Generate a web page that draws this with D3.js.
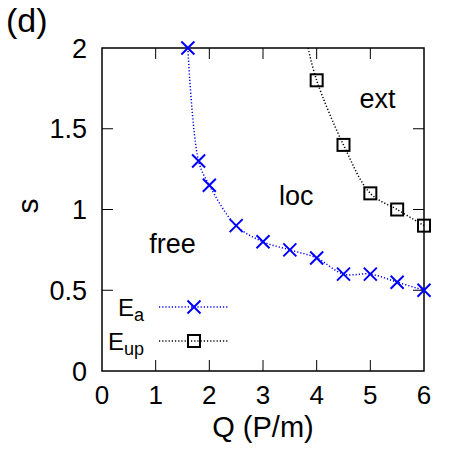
<!DOCTYPE html>
<html><head><meta charset="utf-8">
<script src="https://cdn.jsdelivr.net/npm/d3@7"></script>
<style>body{margin:0;background:#fff}svg{display:block}text{font-family:"Liberation Sans",Arial,sans-serif;fill:#000}</style>
</head><body><svg id="c" width="450" height="450"></svg>
<script>
const xTicks = [0,1,2,3,4,5,6];
const yTicks = [0,0.5,1,1.5,2];
const yTickLabels = ["0","0.5","1","1.5","2"];
const eaQ = [1.6,1.8,2.0,2.5,3.0,3.5,4.0,4.5,5.0,5.5,6.0];
const eaS = [2.0,1.3,1.15,0.9,0.8,0.75,0.7,0.6,0.6,0.55,0.5];
const eupQ = [4.0,4.5,5.0,5.5,6.0];
const eupS = [1.8,1.4,1.1,1.0,0.9];
const eupLineQ = [3.84,4.0,4.5,5.0,5.5,6.0];
const eupLineS = [2.0,1.8,1.4,1.1,1.0,0.9];
const regionLabels = ["ext","loc","free"];
const regionQ = [4.8,3.3,0.88];
const regionS = [1.63,1.03,0.73];

const svg = d3.select("#c");
const L=102,R=424,T=48,B=371;
const x = d3.scaleLinear().domain([0,6]).range([L,R]);
const y = d3.scaleLinear().domain([0,2]).range([B,T]);
const tk=11;

const g = svg.append("g");
xTicks.slice(1,-1).forEach(v=>{
  g.append("line").attr("x1",x(v)).attr("x2",x(v)).attr("y1",B).attr("y2",B-tk).attr("stroke","#000").attr("stroke-width",1);
  g.append("line").attr("x1",x(v)).attr("x2",x(v)).attr("y1",T).attr("y2",T+tk).attr("stroke","#000").attr("stroke-width",1);
});
yTicks.slice(1,-1).forEach(v=>{
  g.append("line").attr("y1",y(v)).attr("y2",y(v)).attr("x1",L).attr("x2",L+tk).attr("stroke","#000").attr("stroke-width",1);
  g.append("line").attr("y1",y(v)).attr("y2",y(v)).attr("x1",R).attr("x2",R-tk).attr("stroke","#000").attr("stroke-width",1);
});
svg.append("rect").attr("x",L).attr("y",T).attr("width",R-L).attr("height",B-T).attr("fill","none").attr("stroke","#000").attr("stroke-width",1.5);

xTicks.forEach(v=>{
  svg.append("text").attr("x",x(v)).attr("y",404).attr("text-anchor","middle").attr("font-size",26).text(v);
});
yTicks.forEach((v,i)=>{
  svg.append("text").attr("x",87).attr("y",y(v)).attr("dy","0.36em").attr("text-anchor","end").attr("font-size",27).text(yTickLabels[i]);
});
svg.append("text").attr("x",263).attr("y",437).attr("text-anchor","middle").attr("font-size",29).text("Q (P/m)");
svg.append("text").attr("transform","translate(38,206) rotate(-90)").attr("text-anchor","middle").attr("font-size",30).text("s");
svg.append("text").attr("x",6).attr("y",32).attr("font-size",34).text("(d)");

regionLabels.forEach((t,i)=>{
  svg.append("text").attr("x",x(regionQ[i])).attr("y",y(regionS[i])).attr("font-size",27).text(t);
});

const line = d3.line().x(d=>x(d[0])).y(d=>y(d[1])).curve(d3.curveCatmullRom);
svg.append("path").attr("d",line(eaQ.map((q,i)=>[q,eaS[i]]))).attr("fill","none").attr("stroke","#0000ff").attr("stroke-width",1.5).attr("stroke-dasharray","1.2,2");
svg.append("path").attr("d",line(eupLineQ.map((q,i)=>[q,eupLineS[i]]))).attr("fill","none").attr("stroke","#000").attr("stroke-width",1.5).attr("stroke-dasharray","1.2,2");

function cross(px,py){
  const s=6.5;
  svg.append("path").attr("d",`M${px-s},${py-s}L${px+s},${py+s}M${px-s},${py+s}L${px+s},${py-s}`).attr("stroke","#0000ff").attr("stroke-width",2).attr("fill","none");
}
function square(px,py){
  const s=6;
  svg.append("rect").attr("x",px-s).attr("y",py-s).attr("width",2*s).attr("height",2*s).attr("fill","none").attr("stroke","#000").attr("stroke-width",2);
}
eaQ.forEach((q,i)=>cross(x(q),y(eaS[i])));
eupQ.forEach((q,i)=>square(x(q),y(eupS[i])));

const ly1=307, ly2=341;
svg.append("line").attr("x1",159).attr("x2",229).attr("y1",ly1).attr("y2",ly1).attr("stroke","#0000ff").attr("stroke-width",1.5).attr("stroke-dasharray","1.2,2");
cross(194,ly1);
svg.append("line").attr("x1",159).attr("x2",229).attr("y1",ly2).attr("y2",ly2).attr("stroke","#000").attr("stroke-width",1.5).attr("stroke-dasharray","1.2,2");
square(194,ly2);
const t1 = svg.append("text").attr("x",118).attr("y",ly1+9).attr("font-size",24);
t1.append("tspan").text("E");
t1.append("tspan").attr("font-size",18).attr("dy",5).text("a");
const t2 = svg.append("text").attr("x",108).attr("y",ly2+9).attr("font-size",24);
t2.append("tspan").text("E");
t2.append("tspan").attr("font-size",18).attr("dy",5).text("up");
</script></body></html>
